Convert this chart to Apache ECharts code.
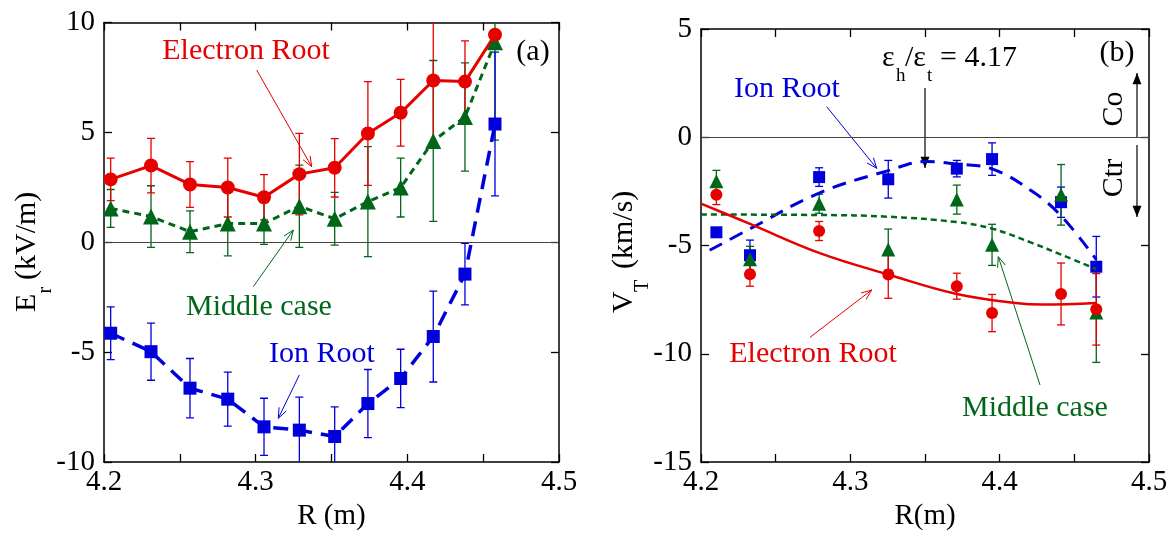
<!DOCTYPE html>
<html>
<head>
<meta charset="utf-8">
<script src="https://cdn.jsdelivr.net/npm/echarts@6.0.0/dist/echarts.min.js"></script>
<style>
  html, body { margin: 0; padding: 0; background: #fff; }
  #chart { width: 1174px; height: 536px; }
</style>
</head>
<body>
<div id="chart"></div>
<script>
// ---- panel (a): Er profiles ----
const rA = [4.2044, 4.231, 4.2567, 4.2816, 4.3055, 4.3288, 4.3521, 4.374, 4.3956, 4.4171, 4.438, 4.4578];
const erElectron = [2.86, 3.49, 2.63, 2.49, 2.05, 3.10, 3.39, 4.95, 5.89, 7.36, 7.31, 9.44];
const erElectronErr = [0.97, 1.24, 1.04, 1.34, 1.03, 1.85, 1.33, 2.36, 1.52, 3.0, 1.85, 0];
const erMiddle = [1.54, 1.17, 0.48, 0.85, 0.85, 1.64, 1.07, 1.85, 2.49, 4.61, 5.70, 9.10];
const erMiddleErr = [0.86, 1.4, 0.95, 1.47, 0.95, 1.87, 1.2, 2.5, 1.34, 3.66, 2.46, 4.45];
const erIon = [-4.14, -4.98, -6.64, -7.14, -8.40, -8.55, -8.84, -7.34, -6.20, -4.29, -1.45, 5.38];
const erIonErr = [1.2, 1.3, 1.35, 1.23, 1.3, 1.5, 1.35, 1.55, 1.33, 2.07, 1.4, 3.27];

// ---- panel (b): toroidal velocity ----
const rB = [4.2103, 4.2328, 4.2791, 4.3254, 4.3713, 4.3949, 4.4411, 4.4647];
const vtElectron = [-2.66, -6.33, -4.33, -6.34, -6.88, -8.12, -7.24, -7.95];
const vtElectronErr = [0.45, 0.55, 0.44, 1.1, 0.6, 0.86, 1.43, 1.65];
const vtMiddle = [-2.03, -5.64, -3.07, -5.19, -2.88, -4.97, -2.66, -8.1];
const vtMiddleErr = [0.5, 0.6, 0.44, 0.95, 0.67, 0.95, 1.4, 2.3];
const vtIon = [-4.39, -5.45, -1.84, -1.94, -1.45, -1.01, -3.0, -5.98];
const vtIonErr = [0.15, 0.7, 0.43, 0.87, 0.38, 0.75, 0.7, 1.4];

// fitted curves
const fitIonR = [4.2058, 4.2328, 4.2791, 4.3254, 4.3512, 4.3713, 4.3949, 4.422, 4.4411, 4.4647];
const fitIonV = [-5.22, -4.23, -2.58, -1.54, -1.12, -1.24, -1.46, -2.51, -3.63, -5.65];
const fitMiddleR = [4.2, 4.2791, 4.3254, 4.3713, 4.3949, 4.422, 4.4411, 4.4647];
const fitMiddleV = [-3.57, -3.59, -3.67, -3.92, -4.22, -4.89, -5.42, -6.09];
const fitElectronR = [4.2, 4.2328, 4.2791, 4.3254, 4.3713, 4.4108, 4.4288, 4.4647];
const fitElectronV = [-3.07, -4.0, -5.34, -6.34, -7.24, -7.66, -7.73, -7.66];

const RED = '#e60000', GREEN = '#006619', BLUE = '#0000dc';
const FONT = 'Liberation Serif';

const chart = echarts.init(document.getElementById('chart'));

function pairs(xs, ys, es) {
  return xs.map((x, i) => es ? [x, ys[i], es[i]] : [x, ys[i]]);
}

// error bars drawn through the axis scales
function errBars(data, color, cap, xi, yi) {
  return {
    type: 'custom', xAxisIndex: xi, yAxisIndex: yi, clip: true, silent: true,
    data: data,
    renderItem: function (params, api) {
      const x = api.value(0), v = api.value(1), e = api.value(2);
      if (!e) return { type: 'group', children: [] };
      const top = api.coord([x, v + e]);
      const bot = api.coord([x, v - e]);
      const st = { stroke: color, lineWidth: 1.3 };
      return {
        type: 'group',
        children: [
          { type: 'line', shape: { x1: top[0], y1: top[1], x2: bot[0], y2: bot[1] }, style: st },
          { type: 'line', shape: { x1: top[0] - cap, y1: top[1], x2: top[0] + cap, y2: top[1] }, style: st },
          { type: 'line', shape: { x1: bot[0] - cap, y1: bot[1], x2: bot[0] + cap, y2: bot[1] }, style: st }
        ]
      };
    }
  };
}

function xFmt(v) {
  const k = Math.round(v * 100);
  return k % 10 === 0 ? (k / 100).toFixed(1) : '';
}

function xAxes(grid, name) {
  const base = {
    gridIndex: grid, type: 'value', min: 4.2, max: 4.5, interval: 0.05,
    axisLine: { onZero: false, lineStyle: { color: '#000', width: 1.5 } },
    axisTick: { inside: true, length: 8, lineStyle: { color: '#000', width: 1.3 } },
    splitLine: { show: false }
  };
  return [
    Object.assign({}, base, {
      position: 'bottom',
      axisLabel: { formatter: xFmt, fontFamily: FONT, fontSize: 29, color: '#000', margin: 6 },
      name: name, nameLocation: 'middle', nameGap: 40,
      nameTextStyle: { fontFamily: FONT, fontSize: 29, color: '#000' }
    }),
    Object.assign({}, base, { position: 'top', axisLabel: { show: false } })
  ];
}

function yAxes(grid, min, max) {
  const base = {
    gridIndex: grid, type: 'value', min: min, max: max, interval: 5,
    axisLine: { onZero: false, lineStyle: { color: '#000', width: 1.5 } },
    axisTick: { inside: true, length: 8, lineStyle: { color: '#000', width: 1.3 } },
    splitLine: { show: false }
  };
  return [
    Object.assign({}, base, {
      position: 'left',
      axisLabel: { fontFamily: FONT, fontSize: 29, color: '#000', margin: 9 }
    }),
    Object.assign({}, base, { position: 'right', axisLabel: { show: false } })
  ];
}

function zeroLine() {
  return {
    silent: true, symbol: 'none', label: { show: false },
    lineStyle: { color: '#444', width: 1.2, type: 'solid' },
    data: [{ yAxis: 0 }]
  };
}

function txt(x, y, s, color, size, rot) {
  return {
    type: 'text', x: x, y: y, rotation: rot || 0, silent: true,
    style: {
      text: s, fill: color, font: size + 'px ' + FONT,
      textAlign: 'center', textVerticalAlign: 'middle', align: 'center', verticalAlign: 'middle'
    }
  };
}
function ltxt(x, y, s, size) {
  return {
    type: 'text', x: x, y: y, silent: true,
    style: {
      text: s, fill: '#000', font: size + 'px ' + FONT,
      textAlign: 'left', textVerticalAlign: 'middle', align: 'left', verticalAlign: 'middle'
    }
  };
}

function arrow(x1, y1, x2, y2, color, w, filled, len) {
  const a = Math.atan2(y2 - y1, x2 - x1), s = 0.38;
  const p1 = [x2 - len * Math.cos(a - s), y2 - len * Math.sin(a - s)];
  const p2 = [x2 - len * Math.cos(a + s), y2 - len * Math.sin(a + s)];
  const head = filled
    ? { type: 'polygon', shape: { points: [p1, [x2, y2], p2] }, style: { fill: color } }
    : { type: 'polyline', shape: { points: [p1, [x2, y2], p2] }, style: { stroke: color, lineWidth: w, fill: null } };
  return {
    type: 'group', silent: true,
    children: [
      { type: 'line', shape: { x1: x1, y1: y1, x2: x2, y2: y2 }, style: { stroke: color, lineWidth: w } },
      head
    ]
  };
}

// rotated axis title with subscript
function yTitle(x, yStart, main, sub, rest, subOff, restOff) {
  return {
    type: 'group', x: x, y: yStart, rotation: Math.PI / 2, silent: true,
    children: [
      ltxt(0, 0, main, 30),
      ltxt(subOff, 19, sub, 20),
      ltxt(restOff, 0, rest, 30)
    ]
  };
}

chart.setOption({
  animation: false,
  backgroundColor: '#fff',
  grid: [
    { left: 104, top: 22.5, width: 455, height: 454 },
    { left: 701, top: 29, width: 448, height: 447 }
  ],
  xAxis: xAxes(0, 'R (m)').concat(xAxes(1, 'R(m)')),
  yAxis: yAxes(0, -10, 10).concat(yAxes(1, -15, 5)),
  series: [
    // panel (a)
    errBars(pairs(rA, erMiddle, erMiddleErr), GREEN, 4, 0, 0),
    errBars(pairs(rA, erElectron, erElectronErr), RED, 4, 0, 0),
    errBars(pairs(rA, erIon, erIonErr), BLUE, 4, 0, 0),
    {
      type: 'line', xAxisIndex: 0, yAxisIndex: 0, data: pairs(rA, erMiddle),
      symbol: 'triangle', symbolSize: 16, itemStyle: { color: GREEN, opacity: 1 },
      lineStyle: { color: GREEN, width: 3, type: [7, 5] },
      markLine: zeroLine()
    },
    {
      type: 'line', xAxisIndex: 0, yAxisIndex: 0, data: pairs(rA, erElectron),
      symbol: 'circle', symbolSize: 14, itemStyle: { color: RED, opacity: 1 },
      lineStyle: { color: RED, width: 3 }
    },
    {
      type: 'line', xAxisIndex: 0, yAxisIndex: 0, data: pairs(rA, erIon),
      symbol: 'rect', symbolSize: 13, itemStyle: { color: BLUE, opacity: 1 },
      lineStyle: { color: BLUE, width: 3.5, type: [15, 9] }
    },
    // panel (b)
    errBars(pairs(rB, vtIon, vtIonErr), BLUE, 4, 2, 2),
    errBars(pairs(rB, vtMiddle, vtMiddleErr), GREEN, 4, 2, 2),
    errBars(pairs(rB, vtElectron, vtElectronErr), RED, 4, 2, 2),
    {
      type: 'line', xAxisIndex: 2, yAxisIndex: 2, data: pairs(fitIonR, fitIonV),
      showSymbol: false, smooth: 0.4, lineStyle: { color: BLUE, width: 3, type: [14, 9] },
      markLine: zeroLine()
    },
    {
      type: 'line', xAxisIndex: 2, yAxisIndex: 2, data: pairs(fitMiddleR, fitMiddleV),
      showSymbol: false, smooth: 0.4, lineStyle: { color: GREEN, width: 2.5, type: [6, 4] }
    },
    {
      type: 'line', xAxisIndex: 2, yAxisIndex: 2, data: pairs(fitElectronR, fitElectronV),
      showSymbol: false, smooth: 0.4, lineStyle: { color: RED, width: 2.5 }
    },
    {
      type: 'scatter', xAxisIndex: 2, yAxisIndex: 2, data: pairs(rB, vtIon),
      symbol: 'rect', symbolSize: 12, itemStyle: { color: BLUE, opacity: 1 }
    },
    {
      type: 'scatter', xAxisIndex: 2, yAxisIndex: 2, data: pairs(rB, vtMiddle),
      symbol: 'triangle', symbolSize: 14, itemStyle: { color: GREEN, opacity: 1 }
    },
    {
      type: 'scatter', xAxisIndex: 2, yAxisIndex: 2, data: pairs(rB, vtElectron),
      symbol: 'circle', symbolSize: 12, itemStyle: { color: RED, opacity: 1 }
    }
  ],
  graphic: [
    // panel (a) annotations
    txt(246, 51, 'Electron Root', RED, 30),
    arrow(256.7, 70, 311.7, 166.7, RED, 1, false, 11),
    txt(259, 307, 'Middle case', GREEN, 30),
    arrow(253.3, 286.7, 293.3, 230, GREEN, 1, false, 11),
    txt(322, 354, 'Ion Root', BLUE, 30),
    arrow(299.3, 375, 278.3, 418.3, BLUE, 1, false, 11),
    txt(533, 52, '(a)', '#000', 30),
    yTitle(27, 312, 'E', 'r', '(kV/m)', 18.5, 32),
    // panel (b) annotations
    txt(787, 89, 'Ion Root', BLUE, 30),
    arrow(826.7, 106.7, 876.7, 168.3, BLUE, 1, false, 11),
    txt(813, 354, 'Electron Root', RED, 30),
    arrow(810, 337.3, 871.7, 290, RED, 1, false, 11),
    txt(1035, 408, 'Middle case', GREEN, 30),
    arrow(1040, 385, 998.3, 256.7, GREEN, 1, false, 11),
    txt(1117, 53, '(b)', '#000', 30),
    txt(1114, 109, 'Co', '#000', 30, Math.PI / 2),
    txt(1114, 178, 'Ctr', '#000', 30, Math.PI / 2),
    arrow(1137, 137, 1137, 73, '#000', 1.2, true, 12),
    arrow(1137, 145, 1137, 217, '#000', 1.2, true, 12),
    arrow(925, 88, 925, 168, '#000', 1.2, true, 12),
    ltxt(882, 58, 'ε', 30),
    ltxt(896, 76, 'h', 19),
    ltxt(905, 58, '/ε', 30),
    ltxt(927, 76, 't', 19),
    ltxt(940, 58, '= 4.17', 30),
    yTitle(624, 313, 'V', 'T', '(km/s)', 21, 44)
  ]
});
</script>
</body>
</html>
